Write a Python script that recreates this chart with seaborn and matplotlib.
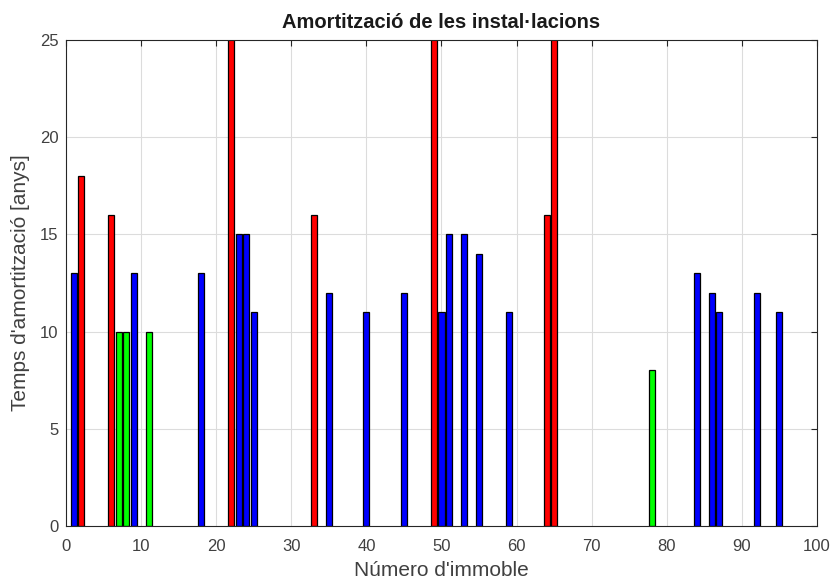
import matplotlib
matplotlib.use("Agg")
import matplotlib.pyplot as plt
import seaborn as sns
import pandas as pd

# Payback time per building, grouped by colour class
red_ids = [2, 6, 22, 33, 49, 64, 65]
red_years = [18, 16, 30, 16, 30, 16, 30]

green_ids = [7, 8, 11, 78]
green_years = [10, 10, 10, 8]

blue_ids = [1, 9, 18, 23, 24, 25, 35, 40, 45, 50, 51, 53, 55, 59, 84, 86, 87, 92, 95]
blue_years = [13, 13, 13, 15, 15, 11, 12, 11, 12, 11, 15, 15, 14, 11, 13, 12, 11, 12, 11]

x_ticks = list(range(0, 101, 10))
y_ticks = list(range(0, 26, 5))

groups = ["vermell", "verd", "blau"]
colors = {"vermell": "#ff0000", "verd": "#00ff00", "blau": "#0000ff"}

df = pd.concat([
    pd.DataFrame({"immoble": red_ids, "anys": red_years, "grup": "vermell"}),
    pd.DataFrame({"immoble": green_ids, "anys": green_years, "grup": "verd"}),
    pd.DataFrame({"immoble": blue_ids, "anys": blue_years, "grup": "blau"}),
], ignore_index=True)

sns.set_style("white")
plt.rcParams["font.family"] = ["Liberation Sans", "DejaVu Sans"]

axis_gray = "#262626"
text_gray = "#404040"

fig = plt.figure(figsize=(8.32, 5.83), dpi=100)
ax = fig.add_axes([66 / 832, 1 - 526 / 583, (817 - 66) / 832, (526 - 40) / 583])

sns.barplot(data=df, x="immoble", y="anys", hue="grup", hue_order=groups,
            palette=colors, native_scale=True, dodge=False, width=0.8,
            edgecolor="black", linewidth=0.9, saturation=1, legend=False,
            errorbar=None, ax=ax, zorder=2)

ax.set_xlim(0, 100)
ax.set_ylim(0, 25)
ax.set_xticks(x_ticks)
ax.set_yticks(y_ticks)
ax.set_xticklabels([str(t) for t in x_ticks])
ax.set_yticklabels([str(t) for t in y_ticks])

# light grid behind the bars, ticks kept on top
for t in x_ticks[1:-1]:
    ax.axvline(t, color="#dcdcdc", lw=0.8, zorder=0)
for t in y_ticks[1:-1]:
    ax.axhline(t, color="#dcdcdc", lw=0.8, zorder=0)

ax.tick_params(axis="both", direction="in", length=4, width=0.8,
               colors=axis_gray, labelcolor=text_gray, labelsize=12,
               top=True, right=True)
ax.tick_params(axis="x", pad=9.5)
ax.tick_params(axis="y", pad=5.5)
for s in ax.spines.values():
    s.set_color(axis_gray)
    s.set_linewidth(0.8)
    s.set_visible(True)

ax.set_xlabel("Número d'immoble", fontsize=15, color=text_gray, labelpad=5)
ax.set_ylabel("Temps d'amortització [anys]", fontsize=15, color=text_gray, labelpad=7)
ax.set_title("Amortització de les instal·lacions", fontsize=14.5,
             fontweight="bold", color="#1a1a1a", pad=9)

fig.savefig("out.png", dpi=100)
